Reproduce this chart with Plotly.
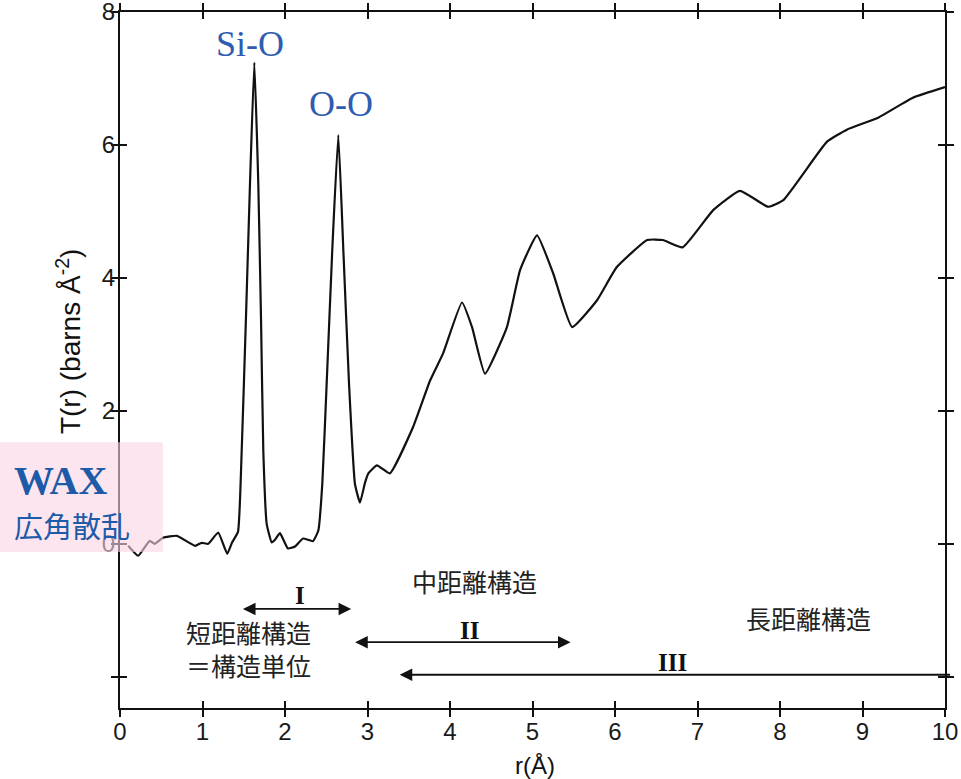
import plotly.graph_objects as go

# T(r), r in Å
r = [0.10, 0.22, 0.36, 0.42, 0.52, 0.69, 0.91, 0.99, 1.07, 1.19, 1.30, 1.358,
     1.43, 1.475, 1.527, 1.576, 1.628, 1.676, 1.709, 1.737, 1.778, 1.839,
     1.879, 1.939, 2.036, 2.121, 2.218, 2.339, 2.404, 2.452, 2.505, 2.573,
     2.646, 2.707, 2.776, 2.848, 2.909, 2.97, 3.01, 3.115, 3.27, 3.55, 3.76,
     3.915, 4.145, 4.267, 4.424, 4.69, 4.85, 5.055, 5.25, 5.48, 5.78, 6.02,
     6.39, 6.58, 6.82, 7.19, 7.515, 7.855, 8.04, 8.57, 8.81, 9.19, 9.61, 10.0]
t = [-0.03, -0.18, 0.045, 0.0, 0.09, 0.12, -0.03, 0.015, 0.0, 0.17, -0.15, 0.02,
     0.18, 1.40, 3.41, 5.43, 7.24, 5.43, 3.41, 1.40, 0.30, 0.02,
     0.06, 0.16, -0.07, -0.04, 0.08, 0.04, 0.20, 0.90, 2.41, 4.42,
     6.15, 4.42, 2.41, 0.90, 0.62, 0.92, 1.06, 1.18, 1.06, 1.75, 2.46,
     2.86, 3.63, 3.26, 2.56, 3.26, 4.12, 4.64, 4.07, 3.26, 3.66, 4.16,
     4.57, 4.57, 4.46, 5.02, 5.31, 5.07, 5.17, 6.05, 6.23, 6.41, 6.71, 6.87]

x_ticks = list(range(0, 11))
y_ticks = [-2, 0, 2, 4, 6, 8]
y_tick_labels = ["", "0", "2", "4", "6", "8"]

peak_names = ["Si-O", "O-O"]
peak_r = [1.58, 2.68]
peak_t = [7.52, 6.62]

region_names = ["I", "II", "III"]
region_start = [1.49, 2.85, 3.39]
region_end = [2.82, 5.48, 10.08]
region_level = [-0.98, -1.48, -1.97]
region_name_r = [2.18, 4.24, 6.70]
region_name_t = [-0.78, -1.31, -1.79]

scale_texts = ["短距離構造<br>＝構造単位", "中距離構造", "長距離構造"]
scale_r = [1.56, 4.30, 8.35]
scale_t = [-1.57, -0.56, -1.12]

blue = "#2f5cb0"

fig = go.Figure()
fig.add_trace(go.Scatter(x=r, y=t, mode="lines",
                         line=dict(color="#111", width=2.2, shape="spline", smoothing=0.4),
                         hoverinfo="skip", showlegend=False))
# second pair of axes only to get ticks crossing the frame
fig.add_trace(go.Scatter(x=[None], y=[None], xaxis="x2", yaxis="y2",
                         showlegend=False, hoverinfo="skip"))

axis_common = dict(showline=True, linecolor="#111", linewidth=2, showgrid=False,
                   zeroline=False, ticklen=7, tickwidth=2, tickcolor="#111",
                   automargin=False)
tick_font = dict(family="Liberation Sans", size=24, color="#1a1a1a")
fig.update_layout(
    width=961, height=779,
    margin=dict(l=120, r=16, t=12, b=71),
    paper_bgcolor="white", plot_bgcolor="white",
    showlegend=False,
    xaxis=dict(range=[0, 10], tickvals=x_ticks, ticks="outside", mirror="ticks",
               tickfont=tick_font, ticklabeloverflow="allow", ticklabelstandoff=-6,
               **axis_common),
    yaxis=dict(range=[-2.47, 8], tickvals=y_ticks, ticktext=y_tick_labels,
               ticks="outside", mirror="ticks", tickfont=tick_font,
               ticklabeloverflow="allow", ticklabelstandoff=-9, **axis_common),
    xaxis2=dict(range=[0, 10], tickvals=x_ticks, ticks="inside", mirror="ticks",
                overlaying="x", showticklabels=False, **axis_common),
    yaxis2=dict(range=[-2.47, 8], tickvals=y_ticks, ticks="inside", mirror="ticks",
                overlaying="y", showticklabels=False, **axis_common),
)

# axis titles
fig.add_annotation(text="T(r) (barns Å<sup>-2</sup>)", xref="paper", yref="paper",
                   x=-0.062, y=0.527, xanchor="center", yanchor="middle",
                   textangle=-90, showarrow=False,
                   font=dict(family="Liberation Sans", size=28, color="#111"))
fig.add_annotation(text="r(Å)", xref="x", yref="paper", x=5.03, y=-0.082,
                   yanchor="middle", showarrow=False,
                   font=dict(family="Liberation Sans", size=24, color="#111"))

for name, px, pt in zip(peak_names, peak_r, peak_t):
    fig.add_annotation(text=name, x=px, y=pt, showarrow=False,
                       font=dict(family="Liberation Serif", size=36, color=blue))

for name, a, b, lv, nr, nt in zip(region_names, region_start, region_end,
                                  region_level, region_name_r, region_name_t):
    side = "end" if name == "III" else "end+start"
    fig.add_annotation(x=a, y=lv, ax=b, ay=lv, xref="x", yref="y", axref="x", ayref="y",
                       text="", showarrow=True, arrowhead=2, startarrowhead=2,
                       arrowside=side, arrowsize=1.4, startarrowsize=1.4,
                       arrowwidth=1.8, arrowcolor="#111")
    fig.add_annotation(text="<b>" + name + "</b>", x=nr, y=nt, showarrow=False,
                       font=dict(family="Liberation Serif", size=25, color="#111"))

for txt, sr, st in zip(scale_texts, scale_r, scale_t):
    fig.add_annotation(text=txt, x=sr, y=st, showarrow=False,
                       font=dict(family="Noto Sans CJK JP", size=25, color="#222"))

# WAX box
fig.add_shape(type="rect", xref="paper", yref="paper", x0=-0.1455, x1=0.052,
              y0=0.224, y1=0.382, fillcolor="rgba(250,212,228,0.6)",
              line=dict(width=0), layer="above")
fig.add_annotation(text="<b>WAX</b>", xref="paper", yref="paper", x=-0.131, y=0.327,
                   xanchor="left", yanchor="middle", showarrow=False,
                   font=dict(family="Liberation Serif", size=40, color="#1d5aa8"))
fig.add_annotation(text="広角散乱", xref="paper", yref="paper", x=-0.131, y=0.263,
                   xanchor="left", yanchor="middle", showarrow=False,
                   font=dict(family="Noto Sans CJK JP", size=29, color="#1d5aa8"))

fig.write_html("out.html", config={"displayModeBar": False},
               post_script="document.body.style.margin = '0';")
